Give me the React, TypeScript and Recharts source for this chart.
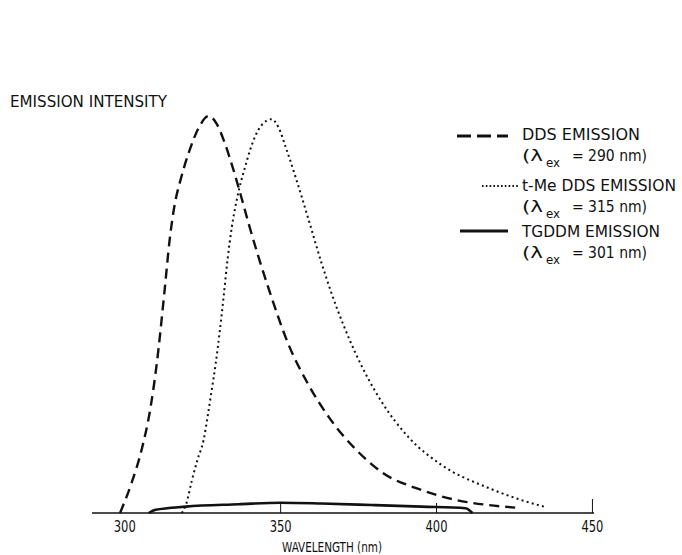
import { Line, LineChart, XAxis, YAxis } from "recharts";

const FONT = '"DejaVu Sans Condensed", "DejaVu Sans", sans-serif';
const INK = "#111";

// wavelength (nm) / relative emission intensity
const ddsWavelength = [298.5, 302.2, 305.4, 308.3, 310.3, 312.8, 314.4, 316.0, 317.9, 320.5, 323.7, 326.9, 329.5, 331.7, 334.3, 337.2, 339.7, 342.9, 346.2, 352.6, 359.0, 365.4, 374.0, 382.4, 395.2, 406.1, 416.7, 426.3];
const ddsIntensity = [0, 7.6, 15.9, 26.7, 37.8, 56.2, 68.8, 77.6, 83.9, 90.7, 97.0, 100, 98.0, 94.0, 87.9, 80.1, 73.0, 64.5, 56.4, 42.3, 32.2, 24.2, 16.1, 10.3, 5.8, 3.3, 2.0, 1.3];

const tmeWavelength = [318.3, 319.6, 321.5, 323.4, 325.3, 326.6, 327.9, 329.2, 330.4, 331.7, 333.0, 334.3, 335.9, 338.8, 340.4, 342.0, 343.9, 347.1, 349.4, 351.6, 354.8, 359.0, 363.1, 366.3, 374.0, 382.4, 391.0, 401.6, 416.7, 426.3, 434.9];
const tmeIntensity = [0, 2.0, 8.1, 13.6, 18.4, 24.4, 31.0, 37.8, 45.3, 54.4, 64.0, 71.8, 78.8, 87.7, 91.9, 95.2, 97.7, 99.2, 97.0, 92.2, 84.6, 73.8, 63.0, 55.4, 40.3, 28.0, 19.1, 12.1, 6.3, 3.5, 1.5];

const tgWavelength = [307.7, 309.9, 319.6, 336.5, 350, 363.1, 379.2, 395.2, 409.3, 411.5];
const tgIntensity = [0, 0.8, 1.6, 2.2, 2.6, 2.4, 2.0, 1.6, 1.2, 0];

const xTicks = [300, 350, 400, 450];

const legendNames = ["DDS EMISSION", "t-Me DDS EMISSION", "TGDDM EMISSION"];
const legendExcitation = ["290", "315", "301"];

const rows = new Map<number, any>();
function addSeries(key: string, xs: number[], ys: number[]) {
  xs.forEach((w, i) => {
    const r = rows.get(w) ?? { wavelength: w };
    r[key] = ys[i];
    rows.set(w, r);
  });
}
addSeries("dds", ddsWavelength, ddsIntensity);
addSeries("tme", tmeWavelength, tmeIntensity);
addSeries("tg", tgWavelength, tgIntensity);
const data = [...rows.values()].sort((a, b) => a.wavelength - b.wavelength);

const CURVE = [
  { dash: "10 6", width: 2.4 },
  { dash: "2 3.3", width: 2 },
  { dash: undefined, width: 2.6 }
];

function XTick({ x, y, payload }: any) {
  const v = payload.value;
  const len = v === 300 ? 0 : v === 450 ? 14 : 10;
  return (
    <g>
      {len > 0 && <line x1={x} x2={x} y1={y} y2={y - len} stroke={INK} strokeWidth={1} />}
      <text x={x - 11} y={y + 19} textLength={22} lengthAdjust="spacingAndGlyphs" fontFamily={FONT} fontSize={16} fill={INK}>
        {v}
      </text>
    </g>
  );
}

// fixed text: axis titles and the legend block
function Overlay() {
  const sample = [
    { x1: 457, x2: 508, y: 136, dash: "14 6", w: 3 },
    { x1: 482, x2: 518, y: 186, dash: "1.6 2.2", w: 1.8 },
    { x1: 460, x2: 508, y: 231, dash: undefined, w: 3 }
  ];
  const nameW = [118, 154, 138];
  const base = [140, 191, 237];
  const t = { fontFamily: FONT, fontSize: 16, fill: INK, lengthAdjust: "spacingAndGlyphs" as const };
  return (
    <svg width={682} height={555} style={{ position: "absolute", left: 0, top: 0, pointerEvents: "none" }}>
      <text x={10} y={107} textLength={157} {...t}>EMISSION INTENSITY</text>
      <text x={282} y={552} textLength={100} {...t} fontSize={14}>WAVELENGTH (nm)</text>
      {legendNames.map((name, i) => (
        <g key={name}>
          <line x1={sample[i].x1} x2={sample[i].x2} y1={sample[i].y} y2={sample[i].y} stroke={INK} strokeWidth={sample[i].w} strokeDasharray={sample[i].dash} />
          <text x={522} y={base[i]} textLength={nameW[i]} {...t}>{name}</text>
          <text x={522} y={base[i] + 21} textLength={21} {...t}>(λ</text>
          <text x={546} y={base[i] + 27} textLength={14} {...t} fontSize={12}>ex</text>
          <text x={572} y={base[i] + 21} textLength={75} {...t}>{`= ${legendExcitation[i]} nm)`}</text>
        </g>
      ))}
    </svg>
  );
}

export default function App() {
  return (
    <div style={{ position: "absolute", left: 0, top: 0, width: 682, height: 555, background: "#fff" }}>
      <LineChart width={682} height={555} data={data} margin={{ top: 116, right: 88, bottom: 12, left: 92 }}>
        <XAxis
          dataKey="wavelength"
          type="number"
          domain={[289.5, 450.5]}
          ticks={xTicks}
          allowDataOverflow
          height={30}
          tickSize={0}
          tickMargin={0}
          tickLine={false}
          tick={<XTick />}
          axisLine={{ stroke: INK, strokeWidth: 1.5 }}
        />
        <YAxis type="number" domain={[0, 100]} width={0} tick={false} tickLine={false} axisLine={{ stroke: INK, strokeWidth: 1.5 }} />
        <Line dataKey="dds" type="monotone" stroke={INK} strokeWidth={CURVE[0].width} strokeDasharray={CURVE[0].dash} dot={false} activeDot={false} connectNulls isAnimationActive={false} />
        <Line dataKey="tme" type="monotone" stroke={INK} strokeWidth={CURVE[1].width} strokeDasharray={CURVE[1].dash} dot={false} activeDot={false} connectNulls isAnimationActive={false} />
        <Line dataKey="tg" type="monotone" stroke={INK} strokeWidth={CURVE[2].width} dot={false} activeDot={false} connectNulls isAnimationActive={false} />
      </LineChart>
      <Overlay />
    </div>
  );
}
